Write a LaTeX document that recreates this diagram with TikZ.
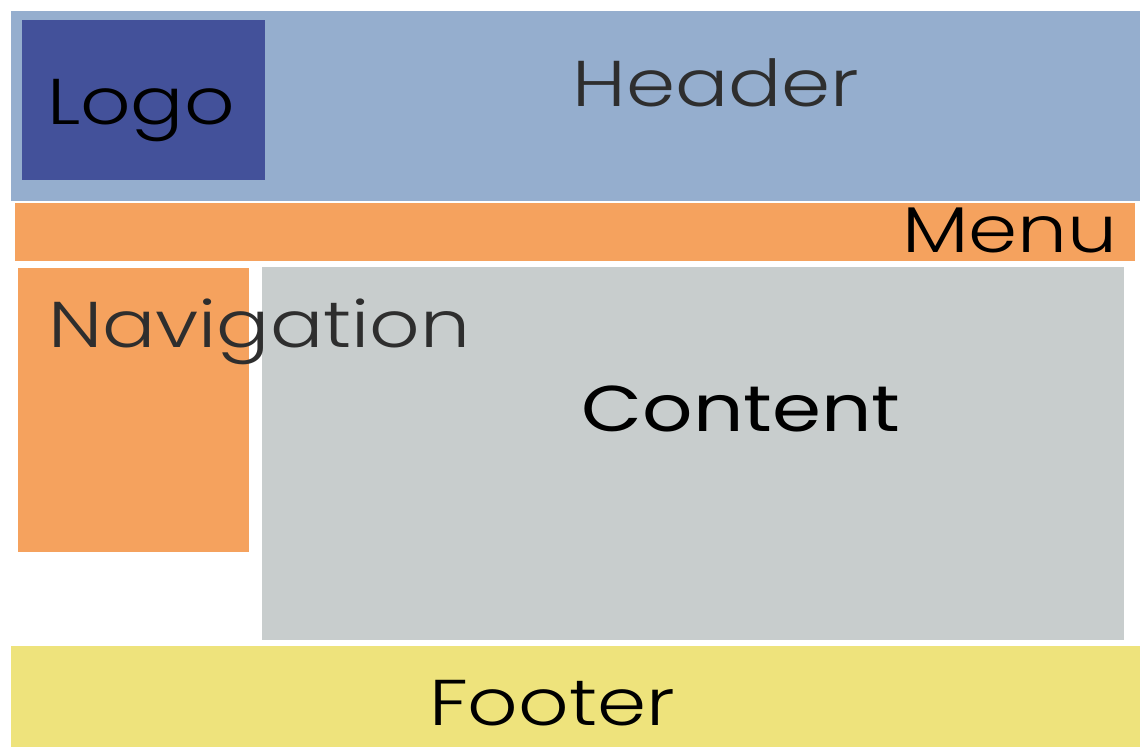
\documentclass[tikz,border=0pt]{standalone}
\usepackage{fontspec}
\setmainfont{Poppins}[UprightFont={* Light}, BoldFont={*}, FakeStretch=1.22]
\definecolor{headerblue}{HTML}{95AECE}
\definecolor{logoblue}{HTML}{43519A}
\definecolor{menuorange}{HTML}{F5A25E}
\definecolor{contentgray}{HTML}{C8CDCD}
\definecolor{footeryellow}{HTML}{EEE37C}
\definecolor{labelgray}{HTML}{2E2E2E}

\begin{document}
\begin{tikzpicture}[
        x=0.025cm, y=-0.025cm,
        region/.style={anchor=north west, inner sep=0pt, outer sep=0pt},
        label/.style={inner sep=0pt, font=\fontsize{46}{50}\selectfont},
    ]
    \useasboundingbox (0,0) rectangle (1140,747);

    % --- page regions ------------------------------------------------------
    \node[region, fill=headerblue, minimum width=28.225cm,
          minimum height=4.75cm] (header) at (11,11) {};
    \node[region, fill=logoblue, minimum width=6.075cm,
          minimum height=4.0cm] (logo) at (22,20) {};
    \node[region, fill=menuorange, minimum width=28.0cm,
          minimum height=1.45cm] (menu) at (15,203) {};
    \node[region, fill=contentgray, minimum width=21.55cm,
          minimum height=9.325cm] (content) at (262,267) {};
    \node[region, fill=menuorange, minimum width=5.775cm,
          minimum height=7.1cm] (nav) at (18,268) {};
    \node[region, fill=footeryellow, minimum width=28.225cm,
          minimum height=2.525cm] (footer) at (11,646) {};

    % --- region labels -----------------------------------------------------
    \node[label, anchor=base, text=labelgray] (headertext) at (716,107) {Header};
    \node[label, anchor=base] (logotext) at (141,125) {Logo};
    \node[label, anchor=base east] (menutext) at (1118,253) {Menu};
    \node[label, anchor=base west, text=labelgray] (navtext) at (48,348) {Navigation};
    \node[label, anchor=base, font=\fontsize{46}{50}\selectfont\bfseries]
        (contenttext) at (741,432) {Content};
    \node[label, anchor=base] (footertext) at (552,725) {Footer};

\end{tikzpicture}
\end{document}
